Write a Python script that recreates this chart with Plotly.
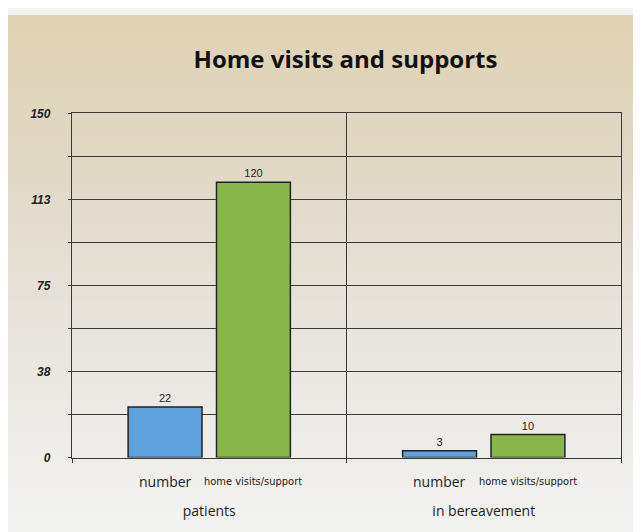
import base64
import plotly.graph_objects as go

# ---- data ----
groups = ["patients", "in bereavement"]
number_values = [22, 3]
visits_values = [120, 10]
series_names = ["number", "home visits/support"]
y_tickvals = [0, 18.75, 37.5, 56.25, 75, 93.75, 112.5, 131.25, 150]
y_ticktext = ["0", "", "38", "", "75", "", "113", "", "150"]
title_text = "Home visits and supports"

W, H = 641, 532
x_dom = [64 / W, 613 / W]
y_dom = [1 - 454.5 / H, 1 - 101 / H]

svg = (
    '<svg xmlns="http://www.w3.org/2000/svg" width="641" height="532" preserveAspectRatio="none">'
    '<defs><linearGradient id="g" x1="0" y1="0" x2="0" y2="1">'
    '<stop offset="0" stop-color="#e0d2b3"/>'
    '<stop offset="0.3" stop-color="#e1d8c6"/>'
    '<stop offset="0.6" stop-color="#e8e4dd"/>'
    '<stop offset="1" stop-color="#f3f3f2"/>'
    '</linearGradient></defs>'
    '<rect width="641" height="532" fill="url(#g)"/></svg>'
)
svg_uri = "data:image/svg+xml;base64," + base64.b64encode(svg.encode()).decode()

fig = go.Figure()
fig.add_trace(go.Bar(
    x=groups, y=number_values, name=series_names[0],
    marker=dict(color="#5ea1dc", line=dict(color="#222222", width=1.5)),
    text=[str(v) for v in number_values], textposition="outside",
    textfont=dict(family="Liberation Sans, Arial", size=11, color="#222222"),
    cliponaxis=False,
))
fig.add_trace(go.Bar(
    x=groups, y=visits_values, name=series_names[1],
    marker=dict(color="#89b64b", line=dict(color="#222222", width=1.5)),
    text=[str(v) for v in visits_values], textposition="outside",
    textfont=dict(family="Liberation Sans, Arial", size=11, color="#222222"),
    cliponaxis=False,
))

annotations = []
for g in groups:
    annotations.append(dict(
        x=g, y=0, xref="x", yref="y", xshift=-44.2, yshift=-12,
        yanchor="top", showarrow=False, text=series_names[0],
        font=dict(family="Open Sans", size=14, color="#222222"),
    ))
    annotations.append(dict(
        x=g, y=0, xref="x", yref="y", xshift=44.2, yshift=-15,
        yanchor="top", showarrow=False, text=series_names[1],
        font=dict(family="DejaVu Sans Condensed", size=11, color="#222222"),
    ))

fig.update_layout(
    width=W, height=H,
    margin=dict(l=0, r=0, t=0, b=0),
    paper_bgcolor="#f3f3f2",
    plot_bgcolor="rgba(0,0,0,0)",
    showlegend=False,
    barmode="group",
    bargap=0.356,
    bargroupgap=0.164,
    title=dict(text=title_text, x=337.5 / W, xanchor="center", y=1 - 52 / H, yanchor="middle",
               font=dict(family="Open Sans", size=24, color="#111111", weight="bold")),
    images=[dict(source=svg_uri, xref="paper", yref="paper", x=0, y=1, sizex=1, sizey=1,
                 xanchor="left", yanchor="top", sizing="stretch", layer="below")],
    annotations=annotations,
    xaxis=dict(
        domain=x_dom, type="category", tickson="boundaries",
        showgrid=True, gridcolor="#3a3a3a", gridwidth=1,
        showline=True, linecolor="#3a3a3a", linewidth=1.3, mirror=True,
        ticks="outside", ticklen=4, tickcolor="#3a3a3a",
        ticklabelstandoff=41,
        tickfont=dict(family="Open Sans", size=14, color="#222222"),
        fixedrange=True,
    ),
    yaxis=dict(
        domain=y_dom, range=[0, 150], tickmode="array",
        tickvals=y_tickvals, ticktext=y_ticktext,
        showgrid=True, gridcolor="#3a3a3a", gridwidth=1,
        showline=True, linecolor="#3a3a3a", linewidth=1.3, mirror=True,
        ticks="outside", ticklen=3, tickcolor="#3a3a3a",
        ticklabelstandoff=15,
        tickfont=dict(family="Liberation Sans, Arial", size=12, color="#222222",
                      weight="bold", style="italic"),
        zeroline=False, fixedrange=True,
    ),
)

fig.write_html("out.html")
